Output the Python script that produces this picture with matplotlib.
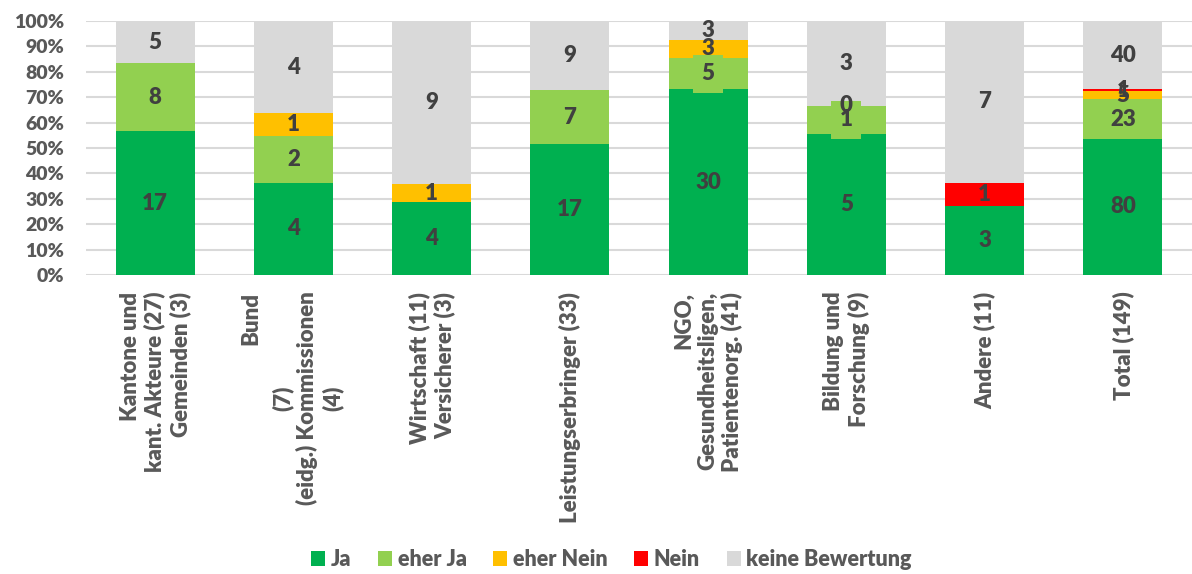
import numpy as np
import matplotlib.pyplot as plt
from matplotlib.patches import Patch

plt.rcParams['font.family'] = ['Lato', 'DejaVu Sans']
plt.rcParams['font.weight'] = 'heavy'

nan = np.nan

categories = [
    "Kantone und\nkant. Akteure (27)\nGemeinden (3)",
    "Bund\n(7)\n(eidg.) Kommissionen\n(4)",
    "Wirtschaft (11)\nVersicherer (3)",
    "Leistungserbringer (33)",
    "NGO,\nGesundheitsligen,\nPatientenorg. (41)",
    "Bildung und\nForschung (9)",
    "Andere (11)",
    "Total (149)",
]
series = ["Ja", "eher Ja", "eher Nein", "Nein", "keine Bewertung"]

# counts per group (nan = no label shown)
ja        = [17, 4, 4, 17, 30, 5, 3, 80]
eher_ja   = [8, 2, nan, 7, 5, 1, nan, 23]
eher_nein = [nan, 1, 1, nan, 3, 0, nan, 5]
nein      = [nan, nan, nan, nan, nan, nan, 1, 1]
keine     = [5, 4, 9, 9, 3, 3, 7, 40]

colors = ["#00B050", "#92D050", "#FFC000", "#FF0000", "#D9D9D9"]
txt_dark = "#404040"
txt_axis = "#595959"

counts = np.array([ja, eher_ja, eher_nein, nein, keine], dtype=float)
filled = np.nan_to_num(counts)
shares = filled / filled.sum(axis=0)

fig = plt.figure(figsize=(11.92, 5.74), dpi=100)
ax = fig.add_axes([86 / 1192, 299 / 574, 1106 / 1192, 254 / 574])

x = np.arange(len(categories))
bottom = np.zeros(len(categories))
for k, (name, col) in enumerate(zip(series, colors)):
    ax.bar(x, shares[k], bottom=bottom, width=0.57, color=col, linewidth=0)
    for i in range(len(categories)):
        v = counts[k, i]
        if np.isnan(v):
            continue
        box = None
        if name == "eher Ja":
            box = dict(boxstyle="square,pad=0.38", fc=col, ec="none")
        ax.text(x[i], bottom[i] + shares[k, i] / 2, f"{int(v)}", ha="center", va="center",
                fontsize=16, color=txt_dark, fontweight="heavy", bbox=box)
    bottom += shares[k]

ax.set_xlim(-0.5, len(categories) - 0.5)
ax.set_ylim(0, 1)
ax.set_yticks(np.arange(0, 1.01, 0.1))
ax.set_yticklabels([f"{int(round(t * 100))}%" for t in np.arange(0, 1.01, 0.1)],
                   fontsize=14, color=txt_axis, fontweight="heavy")
ax.yaxis.grid(True, color="#D9D9D9", linewidth=1.5)
ax.set_axisbelow(True)
for s in ax.spines.values():
    s.set_visible(False)
ax.tick_params(axis="y", length=0, pad=16)
ax.set_xticks([])

# category labels, rotated; Bund: first line on top, the rest centred
line_pt = 20.2
lab_kw = dict(xycoords=("data", "axes fraction"), textcoords="offset points", rotation=90,
              ha="center", va="top", fontsize=16, color=txt_axis, fontweight="heavy",
              linespacing=1.18)
for i, lab in enumerate(categories):
    if i == 1:
        head, rest = lab.split("\n", 1)
        ax.annotate(rest, xy=(x[i], 0), xytext=(0.5 * line_pt, -12), multialignment="center", **lab_kw)
        ax.annotate(head, xy=(x[i], 0), xytext=(-1.5 * line_pt, -12), **lab_kw)
    else:
        ax.annotate(lab, xy=(x[i], 0), xytext=(0, -12), multialignment="right", **lab_kw)

handles = [Patch(facecolor=c, edgecolor="none") for c in colors]
fig.legend(handles, series, loc="center", bbox_to_anchor=(0.513, 0.025), ncol=5, frameon=False,
           handlelength=0.65, handleheight=0.65, handletextpad=0.25, columnspacing=1.25,
           prop={"size": 15.5, "weight": "heavy"}, labelcolor=txt_axis)

fig.savefig("out.png", dpi=100)
